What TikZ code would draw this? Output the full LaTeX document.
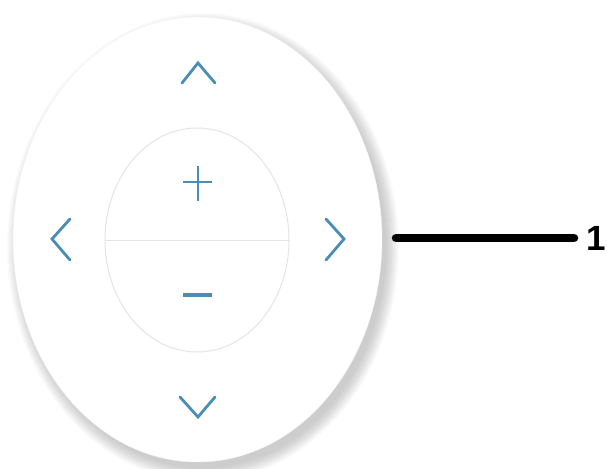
\documentclass[tikz,border=0pt]{standalone}
\usepackage{fontspec}
\setmainfont{Liberation Sans}
\usepackage{xcolor}
\usetikzlibrary{shapes.geometric, positioning}

\definecolor{keyblue}{RGB}{74,142,184}
\definecolor{rimgray}{RGB}{228,228,228}

\tikzset{
  pad/.style={ellipse, fill=white, draw=rimgray!50, line width=0.4pt,
    minimum width=369pt, minimum height=445pt, inner sep=0pt},
  zoomring/.style={ellipse, draw=rimgray, line width=1pt,
    minimum width=184pt, minimum height=224pt, inner sep=0pt},
  caret/.style={draw=keyblue, line width=2.8pt, line cap=round},
  sign/.style={draw=keyblue, line width=2.8pt},
  leadline/.style={draw=black, line width=8.5pt, line cap=round},
  tag/.style={font=\bfseries\fontsize{35}{35}\selectfont, inner sep=0pt}
}

\begin{document}
\begin{tikzpicture}[x=1pt, y=-1pt]
  \useasboundingbox (0,0) rectangle (607,468);
  % soft shadow
  \foreach \r in {1,...,14}
    \fill[black, opacity=0.014] (203,247) ellipse ({182+\r} and {220+\r});
  \node[pad] (pad) at (197.5,239.5) {};
  \node[zoomring] (ring) at (197,240) {};
  \draw[rimgray, line width=1pt] (ring.west) -- (ring.east);
  % arrow keys
  \draw[caret] (182,83) -- (198,63) -- (215,83);
  \draw[caret] (180,397) -- (198,417) -- (215,397);
  \draw[caret] (70,219) -- (52,239) -- (70,260);
  \draw[caret] (326,219) -- (344,239) -- (326,260);
  % zoom keys
  \draw[sign] (183,182) -- (212,182);
  \draw[sign] (198,166) -- (198,201);
  \draw[sign, line width=4.5pt] (183,295) -- (212,295);
  % callout
  \coordinate (lead) at (396,238);
  \node[tag, anchor=west] (num) at (586,238) {1};
  \draw[leadline, shorten >=12pt] (lead) -- (num.west);
\end{tikzpicture}
\end{document}
